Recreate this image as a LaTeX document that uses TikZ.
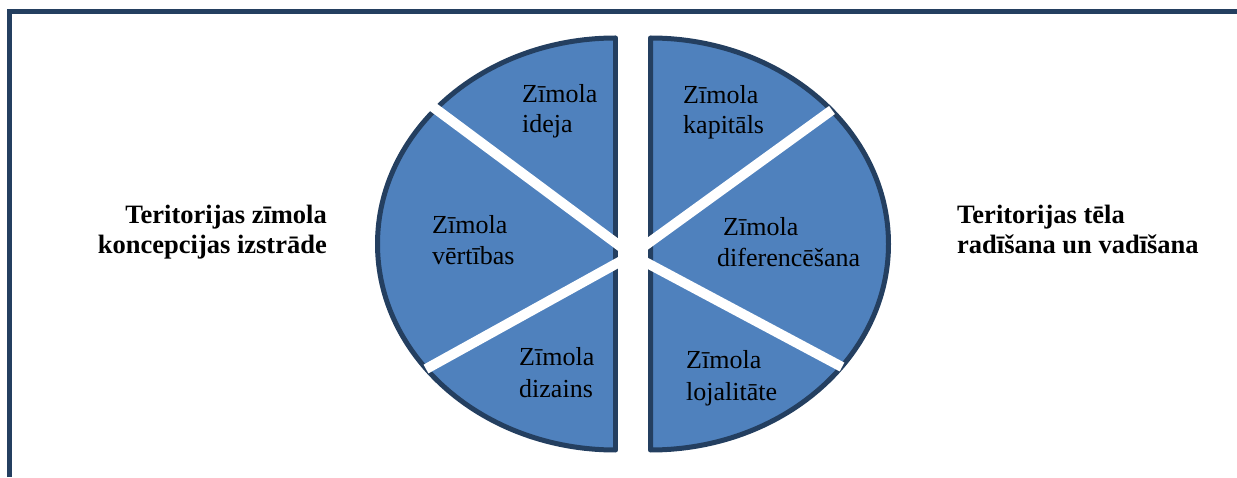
\documentclass[tikz,border=0pt]{standalone}
\usepackage{fontspec}
\setmainfont{Liberation Serif}
\definecolor{navy}{HTML}{243F60}
\definecolor{pieblue}{HTML}{4F81BD}
\tikzset{
  half/.style={fill=pieblue, draw=navy, line width=5pt, line join=round},
  sep/.style={draw=white, line width=10pt, line cap=butt},
  lbl/.style={anchor=base west, inner sep=0pt, font=\fontsize{26}{31}\selectfont},
  ttl/.style={inner sep=0pt, font=\fontsize{26.5}{31}\selectfont\bfseries},
  frame/.style={draw=navy, line width=5pt}
}
\begin{document}
\begin{tikzpicture}[x=1pt,y=1pt]
\useasboundingbox (0,0) rectangle (1237,477);
% frame
\draw[frame] (9.5,0) -- (9.5,465.5) -- (1237,465.5);
% halves
\path[half] (615.5,439) arc[start angle=90, end angle=270, x radius=238pt, y radius=206pt] -- cycle;
\path[half] (650.5,439) arc[start angle=90, end angle=-90, x radius=238pt, y radius=206pt] -- cycle;
% separators
\coordinate (c) at (632,222);
\coordinate (ul) at (429,373);
\coordinate (ll) at (426,108);
\coordinate (ur) at (832,367);
\coordinate (lr) at (842,110);
\draw[sep] (c) -- (ul);
\draw[sep] (c) -- (ll);
\draw[sep] (c) -- (ur);
\draw[sep] (c) -- (lr);
\fill[white] (618,20) rectangle (648,450);
% segment labels
\node[lbl] (a1) at (522,374) {Zīmola};
\node[lbl] (a2) at (522,344) {ideja};
\node[lbl] (b1) at (432,243) {Zīmola};
\node[lbl] (b2) at (432,212) {vērtības};
\node[lbl] (c1) at (519,111) {Zīmola};
\node[lbl] (c2) at (519,80) {dizains};
\node[lbl] (d1) at (683,373) {Zīmola};
\node[lbl] (d2) at (683,343) {kapitāls};
\node[lbl] (e1) at (723,241) {Zīmola};
\node[lbl] (e2) at (717,210) {diferencēšana};
\node[lbl] (f1) at (686,109) {Zīmola};
\node[lbl] (f2) at (686,77) {lojalitāte};
% side titles
\node[ttl, anchor=base east] (l1) at (327,253) {Teritorijas zīmola};
\node[ttl, anchor=base east] (l2) at (327,223) {koncepcijas izstrāde};
\node[ttl, anchor=base west] (r1) at (957,253) {Teritorijas tēla};
\node[ttl, anchor=base west] (r2) at (957,223) {radīšana un vadīšana};
\end{tikzpicture}
\end{document}
